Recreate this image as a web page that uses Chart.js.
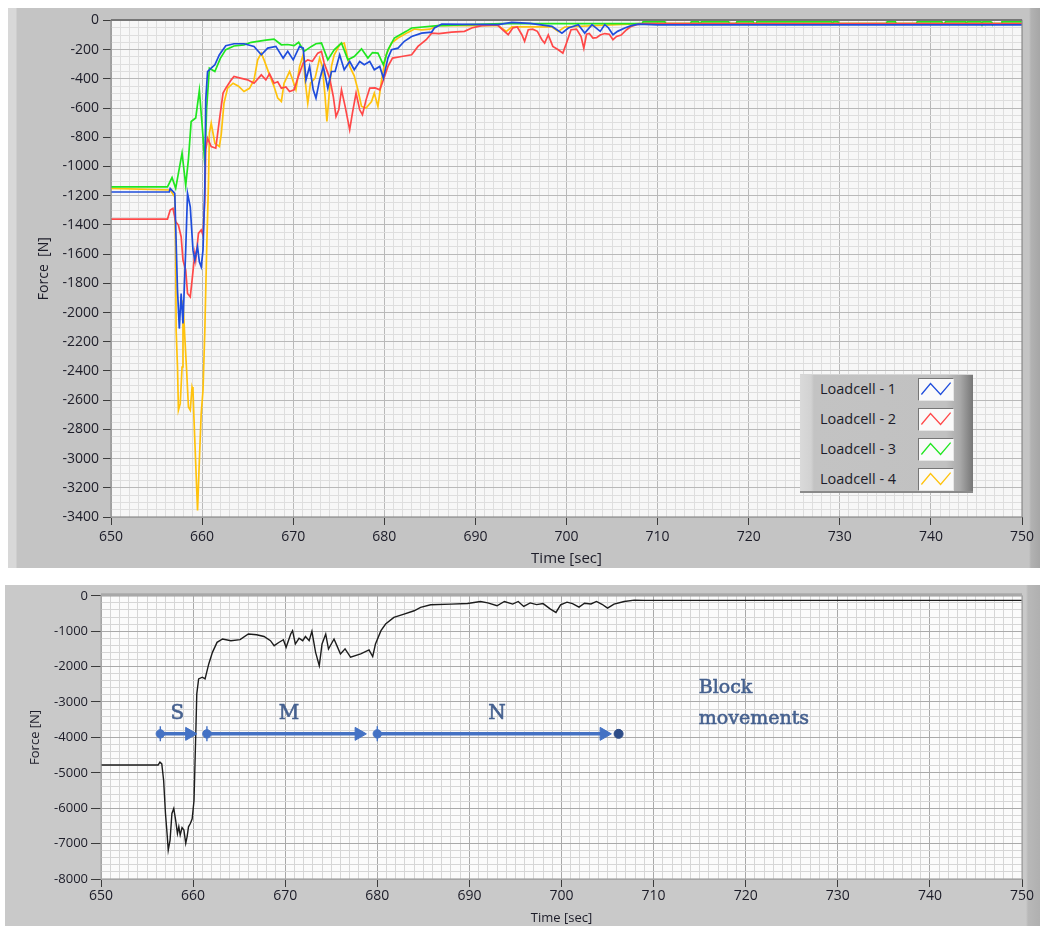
<!DOCTYPE html>
<html><head><meta charset="utf-8">
<script src="https://cdn.jsdelivr.net/npm/chart.js@4.4.1/dist/chart.umd.min.js"></script>
<style>
html,body{margin:0;padding:0;background:#fff;}
body{width:1042px;height:926px;overflow:hidden;position:relative;font-family:'Open Sans',sans-serif;}
#p1{position:absolute;left:8px;top:8px;width:1032px;height:560px;
 background:linear-gradient(to right,#d8d8d8 0,#d8d8d8 8px,#c4c4c4 9px,#c4c4c4 1021px,#b2b2b2 1023px,#a6a6a6 1032px);}
#p2{position:absolute;left:5px;top:585px;width:1035px;height:341px;
 background:linear-gradient(to right,#c9c9c9 0,#c9c9c9 1021px,#b8b8b8 1023px,#b0b0b0 1035px);}
canvas{position:absolute;left:0;top:0;}
#legend{position:absolute;left:800px;top:374px;width:173px;height:119px;box-sizing:border-box;
 background:linear-gradient(to right,#dadada 0,#d2d2d2 11px,#c3c3c3 14px,#c1c1c1 146px,#a9a9a9 160px,#767676 173px);
 border-top:1px solid #d6d6d6;border-bottom:2px solid #8a8a8a;}
.row{position:absolute;left:20px;width:150px;height:23px;}
.row span{position:absolute;left:0;top:50%;transform:translateY(-52%);font-size:14.5px;font-family:'Open Sans',sans-serif;color:#1c1c2a;white-space:nowrap;}
.row svg{position:absolute;left:98px;top:0;width:36px;height:23px;box-sizing:border-box;background:#fafafa;
 border-top:1.5px solid #767676;border-left:1.5px solid #767676;border-bottom:1px solid #e6e6e6;border-right:1px solid #e6e6e6;}
</style></head>
<body>
<div id="p1"><canvas id="c1" width="1032" height="560"></canvas></div>
<div id="p2"><canvas id="c2" width="1035" height="341"></canvas></div>
<div id="legend"></div>
<script>
// ---------------- DATA ----------------
const seriesNames = ['Loadcell - 1','Loadcell - 2','Loadcell - 3','Loadcell - 4'];

// [time sec, force N]
const loadcell1 = [[650,-1175],[656.4,-1175],[656.5,-1150],[657.0,-1184],[657.3,-1847],[657.5,-2110],[657.7,-1870],[657.9,-2075],[658.2,-1573],[658.4,-1184],[658.7,-1276],[659.0,-1573],[659.2,-1641],[659.5,-1550],[659.7,-1653],[659.9,-1687],[660.1,-1573],[660.3,-1138],[660.4,-544],[660.6,-350],[661.0,-327],[661.4,-304],[661.9,-235],[662.6,-173],[663.5,-160],[664.6,-160],[665.7,-178],[666.5,-235],[667.2,-190],[668.1,-178],[668.9,-258],[669.4,-212],[670.0,-270],[670.7,-178],[671.1,-190],[671.4,-407],[671.8,-315],[672.2,-475],[672.5,-532],[672.9,-407],[673.3,-315],[673.8,-464],[674.2,-350],[674.6,-350],[675.1,-235],[675.6,-338],[676.2,-281],[676.7,-338],[677.3,-281],[677.8,-304],[678.4,-281],[678.9,-338],[679.5,-315],[679.9,-395],[680.4,-258],[680.8,-201],[681.5,-190],[682.2,-143],[683.0,-110],[684.1,-87],[685.2,-80],[685.5,-52],[686.3,-25],[692.5,-29],[694.0,-13],[696.0,-20],[698.4,-41],[699.5,-87],[700.2,-52],[701.3,-29],[702.0,-87],[702.8,-29],[703.7,-75],[704.2,-29],[704.6,-50],[705.1,-98],[705.6,-75],[706.4,-52],[707.1,-36],[707.9,-25],[710,-30],[750,-30]];

const loadcell2 = [[650,-1360],[656.2,-1360],[656.5,-1298],[656.8,-1287],[657.1,-1378],[657.4,-1401],[657.7,-1481],[657.9,-1641],[658.2,-1709],[658.4,-1870],[658.7,-1893],[658.9,-1778],[659.2,-1595],[659.3,-1641],[659.6,-1458],[659.9,-1435],[660.1,-1470],[660.3,-1230],[660.4,-887],[660.6,-807],[661.0,-864],[661.5,-875],[661.9,-681],[662.3,-498],[662.6,-464],[663.2,-407],[663.5,-384],[664.2,-395],[665.0,-407],[665.7,-430],[666.5,-373],[667.0,-407],[667.4,-366],[667.9,-430],[668.3,-420],[668.7,-464],[669.2,-455],[669.6,-487],[670.1,-475],[670.5,-395],[671.1,-292],[671.6,-270],[672.1,-280],[672.7,-224],[673.1,-212],[673.4,-292],[674.0,-395],[674.4,-521],[674.7,-658],[675.0,-612],[675.3,-475],[675.7,-589],[676.2,-749],[676.5,-635],[676.9,-498],[677.3,-612],[677.6,-646],[678.0,-544],[678.4,-464],[679.0,-462],[679.5,-475],[679.9,-407],[680.4,-315],[680.9,-258],[681.9,-247],[683.0,-235],[683.7,-178],[684.6,-132],[685.2,-87],[686.0,-90],[687.4,-80],[688.8,-75],[689.6,-52],[690.7,-36],[692.4,-30],[693.0,-64],[693.6,-98],[694.1,-52],[694.6,-45],[695.1,-98],[695.4,-143],[695.8,-64],[696.3,-60],[696.8,-75],[697.3,-132],[697.6,-155],[698.0,-100],[698.5,-178],[699.1,-201],[699.6,-224],[700.0,-155],[700.5,-64],[701.1,-60],[701.6,-110],[701.9,-190],[702.2,-95],[702.5,-90],[702.9,-121],[703.3,-118],[703.7,-100],[704.2,-90],[704.7,-95],[705.1,-132],[705.5,-110],[706.0,-100],[706.6,-64],[707.1,-41],[707.7,-29],[708.5,-22],[750,-22]];

const loadcell3 = [[650,-1140],[656.2,-1140],[656.7,-1076],[657.1,-1150],[657.8,-908],[658.2,-1129],[658.5,-950],[658.8,-692],[659.3,-668],[659.7,-479],[660.1,-795],[660.3,-989],[660.5,-600],[660.8,-327],[661.4,-350],[662.0,-260],[662.6,-200],[663.5,-175],[664.6,-167],[665.4,-150],[666.1,-143],[667.0,-135],[667.9,-128],[668.7,-167],[669.4,-165],[670.1,-173],[670.6,-150],[671.2,-212],[672.0,-178],[672.5,-160],[673.1,-155],[673.8,-270],[674.5,-201],[675.3,-155],[676.0,-270],[676.7,-247],[677.5,-195],[678.2,-258],[678.7,-220],[679.3,-224],[679.9,-304],[680.4,-201],[681.1,-121],[682.4,-75],[683.0,-52],[685.9,-36],[692.9,-22],[708.3,-22],[708.4,-10],[710.8,-10],[710.9,-22],[713.6,-22],[713.7,-10],[714.5,-10],[714.6,-22],[714.7,-22],[714.8,-10],[717.8,-10],[717.9,-22],[718.6,-22],[718.7,-10],[720.5,-10],[720.6,-22],[720.8,-22],[720.9,-10],[729.1,-10],[729.2,-22],[729.3,-10],[729.8,-10],[729.9,-22],[735.1,-22],[735.2,-10],[736.1,-10],[736.2,-22],[738.4,-22],[738.5,-10],[741.2,-10],[741.3,-22],[741.5,-22],[741.6,-10],[743.8,-10],[743.9,-22],[744.0,-10],[745.5,-10],[745.6,-22],[745.7,-10],[746.6,-10],[746.7,-22],[747.7,-22],[747.8,-10],[750,-10]];

const loadcell4 = [[650,-1150],[656.5,-1161],[657.0,-1207],[657.1,-1573],[657.15,-2121],[657.3,-2373],[657.4,-2669],[657.6,-2624],[657.8,-2373],[657.9,-1916],[658.1,-2167],[658.3,-2395],[658.5,-2647],[658.7,-2669],[658.9,-2510],[659.0,-2533],[659.1,-2715],[659.3,-3035],[659.5,-3355],[659.7,-3012],[659.9,-2692],[660.1,-2532],[660.3,-2121],[660.5,-1573],[660.7,-1115],[660.8,-772],[661.0,-704],[661.4,-841],[661.9,-864],[662.1,-780],[662.4,-567],[662.8,-464],[663.4,-430],[664.0,-450],[664.6,-487],[665.2,-465],[665.7,-407],[666.1,-270],[666.5,-224],[666.8,-270],[667.4,-373],[667.9,-452],[668.3,-532],[668.7,-555],[669.0,-430],[669.6,-350],[669.9,-400],[670.3,-475],[670.7,-315],[671.1,-235],[671.3,-407],[671.6,-567],[671.9,-430],[672.4,-395],[672.9,-258],[673.2,-315],[673.5,-521],[673.7,-692],[673.9,-544],[674.2,-315],[674.5,-235],[675.1,-167],[675.6,-155],[676.2,-315],[676.7,-380],[677.1,-475],[677.5,-589],[678.0,-600],[678.6,-555],[678.9,-498],[679.3,-589],[679.7,-407],[680.2,-235],[680.8,-155],[681.5,-121],[682.6,-82],[683.3,-59],[684.1,-65],[685.0,-60],[685.9,-36],[692.5,-36],[693.4,-75],[694.0,-45],[698.4,-45],[699.1,-75],[699.8,-45],[708,-22],[750,-22]];

// bottom panel: summed force
const totalForce = [[650,-4780],[656.2,-4780],[656.4,-4700],[656.6,-4750],[656.8,-5211],[657.0,-6150],[657.2,-6808],[657.3,-7183],[657.5,-6900],[657.7,-6150],[657.9,-6009],[658.1,-6330],[658.3,-6713],[658.45,-6520],[658.6,-6760],[658.8,-6550],[659.0,-6620],[659.2,-6995],[659.35,-6800],[659.5,-6526],[659.7,-6432],[659.9,-6300],[660.1,-5775],[660.3,-3803],[660.4,-2770],[660.6,-2347],[661.0,-2300],[661.3,-2347],[661.7,-1925],[662.1,-1597],[662.6,-1315],[663.2,-1221],[664.1,-1268],[665.1,-1240],[666.0,-1080],[666.9,-1100],[667.7,-1150],[668.4,-1268],[668.8,-1409],[669.3,-1320],[669.8,-1240],[670.1,-1455],[670.6,-1080],[670.8,-986],[671.1,-1362],[671.5,-1200],[671.9,-1268],[672.2,-1150],[672.6,-1268],[672.9,-1005],[673.3,-1597],[673.7,-1972],[674.0,-1362],[674.4,-1080],[674.7,-1503],[675.3,-1221],[675.6,-1400],[676.0,-1643],[676.5,-1500],[677.1,-1737],[678.2,-1643],[679.1,-1530],[679.5,-1718],[679.8,-1362],[680.4,-986],[680.9,-798],[681.8,-610],[682.9,-516],[684.0,-423],[684.7,-329],[685.8,-254],[688.0,-235],[689.8,-216],[691.2,-160],[692.0,-200],[693.0,-282],[693.8,-160],[694.7,-235],[695.3,-160],[695.9,-300],[696.6,-200],[697.3,-250],[698.0,-220],[698.8,-376],[699.4,-470],[699.9,-254],[700.6,-180],[701.2,-220],[701.9,-320],[702.5,-210],[703.2,-230],[703.8,-160],[704.4,-240],[705.0,-350],[705.7,-235],[706.8,-160],[707.9,-122],[709,-130],[750,-130]];

// block-movement annotation (values on the chart's axes)
const phaseNames = ['S','M','N'];
const phaseStart = [656.44, 661.5, 680.0];
const phaseArrowEnd = [659.6, 678.0, 704.6];
const phaseStop = 706.2;
const phaseLevel = -3900;
const phaseLabelTime = [658.3, 670.4, 693.0];
const phaseLabelForce = -3330;
const noteLines = ['Block','movements'];
const noteTime = 714.9;
const noteForce = [-2610, -3490];

// axis ranges / tick labels
const timeRange = [650, 750];
const topForceRange = [-3400, 0];
const bottomForceRange = [-8000, 0];

// ---------------- STYLES ----------------
const seriesColors = ['#1f4ddc','#ff4848','#20e620','#ffc20c'];
const FONT = "'Open Sans', sans-serif";
const SERIF = "'DejaVu Serif', 'Liberation Serif', serif";
const arrowColor = '#4472c4';

const toXY = arr => arr.map(p => ({x:p[0], y:p[1]}));

const areaPlugin = {
  id:'area',
  beforeDraw(chart, args, o){
    const {ctx, chartArea:a} = chart;
    ctx.save(); ctx.fillStyle = o.bg;
    ctx.fillRect(a.left, a.top, a.right-a.left, a.bottom-a.top);
    ctx.restore();
  },
  afterDraw(chart, args, o){
    const {ctx, chartArea:a} = chart;
    ctx.save(); ctx.strokeStyle = o.border; ctx.lineWidth = o.borderWidth;
    ctx.strokeRect(a.left, a.top, a.right-a.left, a.bottom-a.top);
    if (o.topWidth){
      ctx.lineWidth = o.topWidth; ctx.strokeStyle = o.topColor;
      ctx.beginPath(); ctx.moveTo(a.left, a.top - o.topWidth/2 + 0.5); ctx.lineTo(a.right, a.top - o.topWidth/2 + 0.5); ctx.stroke();
    }
    ctx.restore();
  }
};

function scaleX(major, majCol, minCol, fontSize, pad, height, titleSize, titlePadB){
  return {
    type:'linear', min:timeRange[0], max:timeRange[1], position:'bottom',
    ticks:{stepSize:1, autoSkip:false, maxRotation:0, minRotation:0, padding:pad, color:'#1c1c28',
      font:{family:FONT, size:fontSize}, callback:v => (v % major === 0 ? String(v) : '')},
    grid:{color:c => (c.tick && c.tick.value % major === 0 ? majCol : minCol), lineWidth:1,
      tickLength:8, tickColor:c => (c.tick && c.tick.value % major === 0 ? '#3a3a3a' : 'rgba(0,0,0,0)')},
    border:{display:false},
    title:{display:true, text:'Time [sec]', color:'#1c1c28', font:{family:FONT, size:titleSize}, padding:{top:0, bottom:titlePadB}},
    afterFit:s => { s.height = height; }
  };
}
function scaleY(range, step, major, majCol, minCol, fontSize, tl, pad, width, title, titleSize, titlePadT){
  return {
    type:'linear', min:range[0], max:range[1],
    ticks:{stepSize:step, autoSkip:false, padding:pad, color:'#1c1c28',
      font:{family:FONT, size:fontSize}, callback:v => (v % major === 0 ? String(v) : '')},
    grid:{color:c => (c.tick && c.tick.value % major === 0 ? majCol : minCol), lineWidth:1,
      tickLength:tl, tickColor:c => (c.tick && c.tick.value % major === 0 ? '#3a3a3a' : 'rgba(0,0,0,0)')},
    border:{display:false},
    title:{display:true, text:title, color:'#1c1c28', font:{family:FONT, size:titleSize}, padding:{top:titlePadT, bottom:0}},
    afterFit:s => { s.width = width; }
  };
}

// ---------------- TOP CHART ----------------
const topSeries = [loadcell1, loadcell2, loadcell3, loadcell4];
new Chart(document.getElementById('c1'), {
  type:'line',
  data:{datasets: topSeries.map((s,i) => ({
    label:seriesNames[i], data:toXY(s), borderColor:seriesColors[i], backgroundColor:seriesColors[i],
    borderWidth:1.7, pointRadius:0, tension:0, fill:false
  }))},
  options:{
    responsive:false, animation:false, events:[],
    layout:{padding:{left:0, top:11, right:18, bottom:0}},
    plugins:{legend:{display:false}, tooltip:{enabled:false},
      area:{bg:'#f7f7f7', border:'#8c8c8c', borderWidth:1.2, topWidth:2, topColor:'#767676'}},
    scales:{
      x: scaleX(10, '#b9b9b9', '#dedede', 14, 4, 51, 15, 0),
      y: scaleY(topForceRange, 50, 200, '#b9b9b9', '#dedede', 14, 8, 4, 103, 'Force  [N]', 14, 28)
    }
  },
  plugins:[areaPlugin]
});

// legend (HTML, real text)
const lg = document.getElementById('legend');
seriesNames.forEach((n,i) => {
  const r = document.createElement('div'); r.className = 'row';
  r.style.top = (2.5 + i*30) + 'px';
  r.innerHTML = '<span>' + n + '</span><svg viewBox="0 0 36 23"><polyline points="2,17 12,5 23,17 34,4" fill="none" stroke="' + seriesColors[i] + '" stroke-width="1.4"/></svg>';
  lg.appendChild(r);
});

// ---------------- BOTTOM CHART ----------------
const textPlugin = {
  id:'notes',
  afterDatasetsDraw(chart){
    const {ctx, scales:{x, y}} = chart;
    ctx.save();
    ctx.fillStyle = '#46618f'; ctx.strokeStyle = '#46618f'; ctx.lineWidth = 0.6;
    ctx.textAlign = 'center'; ctx.textBaseline = 'middle';
    ctx.font = '20px ' + SERIF;
    phaseNames.forEach((n,i) => {
      const px = x.getPixelForValue(phaseLabelTime[i]), py = y.getPixelForValue(phaseLabelForce);
      ctx.fillText(n, px, py); ctx.strokeText(n, px, py);
    });
    ctx.textAlign = 'left'; ctx.font = '19px ' + SERIF;
    noteLines.forEach((t,i) => {
      const px = x.getPixelForValue(noteTime), py = y.getPixelForValue(noteForce[i]);
      ctx.fillText(t, px, py); ctx.strokeText(t, px, py);
    });
    ctx.restore();
  }
};

const arrowSets = phaseStart.map((s,i) => ({
  data:[{x:s, y:phaseLevel},{x:phaseArrowEnd[i], y:phaseLevel}],
  borderColor:arrowColor, borderWidth:3.5, tension:0,
  pointStyle:['circle','triangle'], pointRadius:[4.2, 7.5], pointRotation:[0, 90],
  pointBackgroundColor:arrowColor, pointBorderColor:arrowColor, pointBorderWidth:1
}));
const tickSet = {
  data:phaseStart.map(s => ({x:s, y:phaseLevel})), showLine:false,
  pointStyle:'line', pointRotation:90, pointRadius:7.5, pointBorderColor:arrowColor, pointBorderWidth:1.4
};
const stopSet = {
  data:[{x:phaseStop, y:phaseLevel}], showLine:false,
  pointStyle:'circle', pointRadius:4.5, pointBackgroundColor:'#2d4c88', pointBorderColor:'#2d4c88'
};
const lineSet = {
  data:toXY(totalForce), borderColor:'#1c1c1c', borderWidth:1.4, pointRadius:0, tension:0
};

new Chart(document.getElementById('c2'), {
  type:'line',
  data:{datasets:[...arrowSets, tickSet, stopSet, lineSet]},
  options:{
    responsive:false, animation:false, events:[],
    layout:{padding:{left:0, top:10, right:18, bottom:0}},
    plugins:{legend:{display:false}, tooltip:{enabled:false},
      area:{bg:'#fbfbfb', border:'#a4a4a4', borderWidth:1.2, topWidth:3, topColor:'#a8a8a8'}},
    scales:{
      x: scaleX(10, '#a9a9a9', '#d6d6d6', 14, 1, 47, 13, 0),
      y: scaleY(bottomForceRange, 200, 1000, '#a9a9a9', '#d6d6d6', 13, 10, 3, 96, 'Force [N]', 13, 22)
    }
  },
  plugins:[areaPlugin, textPlugin]
});
</script>
</body></html>
